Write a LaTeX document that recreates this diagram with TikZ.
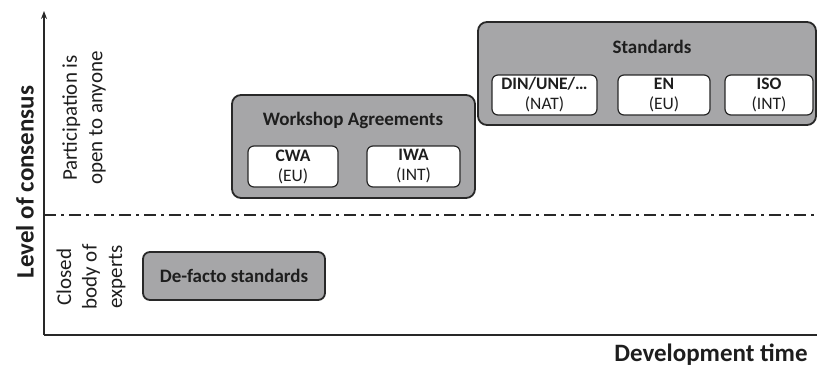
\documentclass[tikz,border=0pt]{standalone}
\usepackage{fontspec}
\setmainfont{Carlito}
\usetikzlibrary{arrows.meta}
\definecolor{boxgray}{RGB}{166,166,168}
\definecolor{edge}{RGB}{40,40,40}
\definecolor{ink}{RGB}{30,30,30}
\tikzset{
  outerbox/.style={draw=edge, line width=1.8pt, fill=boxgray, rounded corners=9pt},
  innerbox/.style={draw=edge, line width=1.2pt, fill=white, rounded corners=6pt, minimum height=41pt, align=center, font=\fontsize{17.5}{20}\selectfont, text=ink, inner sep=0pt},
  axis/.style={draw=edge, line width=1.8pt},
  lbl/.style={text=ink, align=center, font=\fontsize{21}{25.5}\selectfont},
  title/.style={font=\fontsize{19}{22}\selectfont\bfseries, text=ink},
}
\begin{document}
\begin{tikzpicture}[x=1pt,y=-1pt]
\useasboundingbox (0,0) rectangle (817,367);
% axes
\coordinate (o) at (44,335);
\coordinate (ytop) at (44,11);
\coordinate (xend) at (817,335);
\draw[axis, -{Stealth[length=8pt,width=6pt]}] (o) -- (ytop);
\draw[axis] (o) -- (xend);
\coordinate (dl) at (44,215);
\coordinate (dr) at (817,215);
\draw[edge, line width=1.4pt, dash pattern=on 12pt off 5pt on 3pt off 5pt] (dl) -- (dr);
% axis labels
\node[lbl, rotate=90, font=\fontsize{25}{28}\selectfont\bfseries] (ylab) at (25,182) {Level of consensus};
\node[lbl, font=\fontsize{25}{28}\selectfont\bfseries] (xlab) at (711,355) {Development time};
\node[lbl, rotate=90] (open) at (84,118) {Participation is\\open to anyone};
\node[lbl, rotate=90] (closed) at (91,277) {Closed\\body of\\experts};
% Workshop agreements
\node[outerbox, minimum width=243pt, minimum height=103pt] (wa) at (353.5,146.5) {};
\node[title] (watitle) at (353,120) {Workshop Agreements};
\node[innerbox, minimum width=90pt] (cwa) at (293,166.5) {\textbf{CWA}\\(EU)};
\node[innerbox, minimum width=93pt] (iwa) at (413.5,166.5) {\textbf{IWA}\\(INT)};
% Standards
\node[outerbox, minimum width=338pt, minimum height=103pt] (st) at (647,73.5) {};
\node[title] (sttitle) at (652,47) {Standards};
\node[innerbox, minimum width=105pt, minimum height=40pt] (din) at (544.5,95) {\textbf{DIN/UNE/…}\\(NAT)};
\node[innerbox, minimum width=92pt, minimum height=40pt] (en) at (664,95) {\textbf{EN}\\(EU)};
\node[innerbox, minimum width=88pt, minimum height=40pt] (iso) at (769,95) {\textbf{ISO}\\(INT)};
% De-facto
\node[outerbox, rounded corners=7pt, minimum width=182pt, minimum height=48pt, title] (df) at (234,276) {De-facto standards};
\end{tikzpicture}
\end{document}
